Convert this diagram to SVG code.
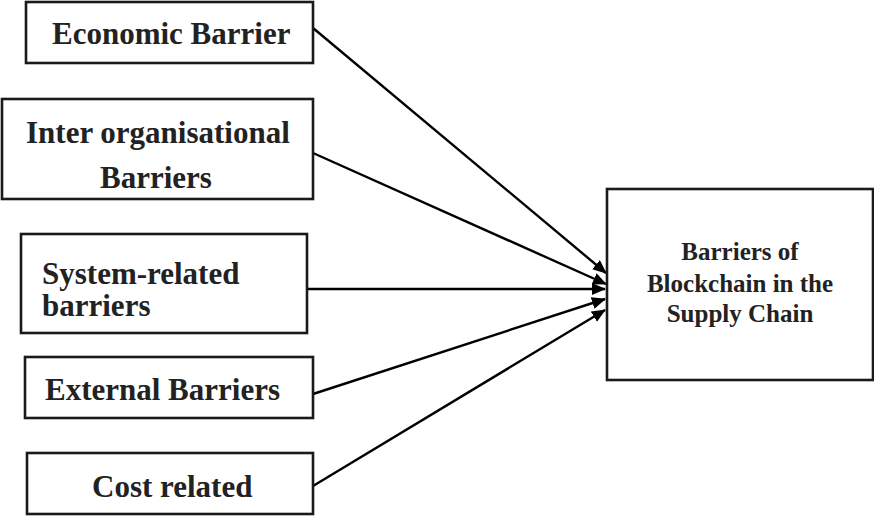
<svg xmlns="http://www.w3.org/2000/svg" width="874" height="517" viewBox="0 0 874 517">
<style>
.box{fill:#fff;stroke:#1a1a1a;stroke-width:2.6}
.t{font-family:"Liberation Serif","Times New Roman",serif;font-weight:bold;font-size:31px;fill:#222}
.tr{font-family:"Liberation Serif","Times New Roman",serif;font-weight:bold;font-size:25px;fill:#222;text-anchor:middle}
.c{stroke:#000;stroke-width:2.4;fill:none;marker-end:url(#ah)}
</style>
<defs>
<marker id="ah" viewBox="0 0 14 12" refX="13" refY="6" markerWidth="14" markerHeight="12" markerUnits="userSpaceOnUse" orient="auto">
<path d="M0,0 L14,6 L0,12 z" fill="#000"/>
</marker>
</defs>
<rect width="874" height="517" fill="#fff"/>
<g id="connectors">
<line class="c" x1="313" y1="28" x2="606" y2="273"/>
<line class="c" x1="313" y1="153" x2="606" y2="284"/>
<line class="c" x1="307" y1="289" x2="605" y2="289"/>
<line class="c" x1="313" y1="394" x2="605" y2="299"/>
<line class="c" x1="313" y1="486" x2="605" y2="310"/>
</g>
<g id="economic">
<rect class="box" x="26" y="2" width="287" height="61"/>
<text class="t" x="52" y="44">Economic Barrier</text>
</g>
<g id="interorg">
<rect class="box" x="2" y="99" width="311" height="100"/>
<text class="t" x="26" y="143">Inter organisational</text>
<text class="t" x="100" y="188">Barriers</text>
</g>
<g id="system">
<rect class="box" x="21" y="234" width="286" height="99"/>
<text class="t" x="42" y="284">System-related</text>
<text class="t" x="42" y="316">barriers</text>
</g>
<g id="external">
<rect class="box" x="25" y="357" width="288" height="61"/>
<text class="t" x="45" y="400">External Barriers</text>
</g>
<g id="cost">
<rect class="box" x="27" y="453" width="286" height="61"/>
<text class="t" x="92" y="497">Cost related</text>
</g>
<g id="target">
<rect class="box" x="607" y="189" width="266" height="191"/>
<text class="tr" x="740" y="260">Barriers of</text>
<text class="tr" x="740" y="292">Blockchain in the</text>
<text class="tr" x="740" y="322">Supply Chain</text>
</g>
</svg>
